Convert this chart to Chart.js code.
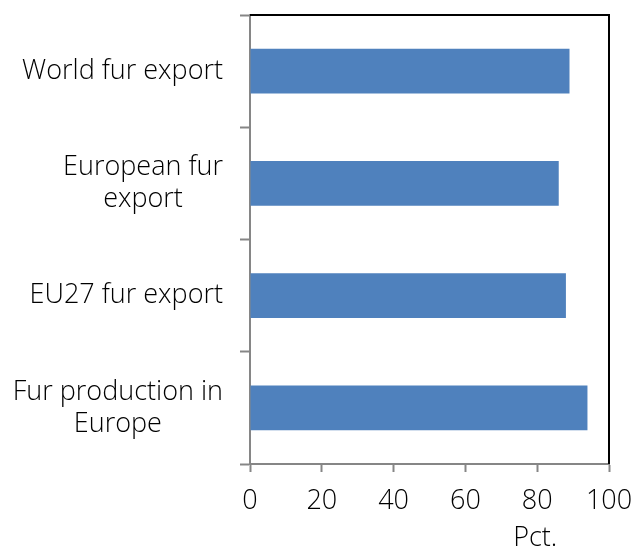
<!DOCTYPE html>
<html>
<head>
<meta charset="utf-8">
<script src="https://cdn.jsdelivr.net/npm/chart.js@4"></script>
<style>
  html, body { margin: 0; padding: 0; background: #fff; }
  #wrap { width: 636px; height: 549px; }
</style>
</head>
<body>
<div id="wrap"><canvas id="chart" width="636" height="549"></canvas></div>
<script>
// category labels, top to bottom (each an array of lines)
const categories = [
  ['World fur export'],
  ['European fur', 'export'],
  ['EU27 fur export'],
  ['Fur production in', 'Europe']
];
// percent values
const shares = [89, 86, 88, 94];
// x axis ticks
const xTicks = [0, 20, 40, 60, 80, 100];
const xTitle = 'Pct.';

const FONT = '"Open Sans", "Noto Sans", sans-serif';
const AXIS_GREY = '#868686';

// draws the frame (black top/right), the wrapped y labels and the axis title
const framePlugin = {
  id: 'frame',
  afterDraw(chart) {
    const { ctx, chartArea } = chart;
    const yScale = chart.scales.y;
    const xScale = chart.scales.x;
    ctx.save();

    // black top and right border
    ctx.strokeStyle = '#000';
    ctx.lineWidth = 2;
    ctx.beginPath();
    ctx.moveTo(chartArea.left, chartArea.top);
    ctx.lineTo(chartArea.right, chartArea.top);
    ctx.lineTo(chartArea.right, chartArea.bottom);
    ctx.stroke();

    // y labels: first line right aligned, following lines centred under it
    ctx.font = '300 27px ' + FONT;
    ctx.fillStyle = '#000';
    ctx.textBaseline = 'middle';
    const rightEdge = chartArea.left - 27;
    const lineH = 32;
    categories.forEach((lines, i) => {
      const cy = yScale.getPixelForValue(i);
      const firstW = ctx.measureText(lines[0]).width;
      const mid = rightEdge - firstW / 2;
      const y0 = cy - (lines.length - 1) * lineH / 2;
      lines.forEach((line, j) => {
        ctx.textAlign = j === 0 ? 'right' : 'center';
        ctx.fillText(line, j === 0 ? rightEdge : mid, y0 + j * lineH);
      });
    });

    // axis title sits under the 80 tick
    ctx.font = '300 27px ' + FONT;
    ctx.textAlign = 'center';
    ctx.fillText(xTitle, xScale.getPixelForValue(80) - 2, 538);
    ctx.restore();
  }
};

new Chart(document.getElementById('chart'), {
  type: 'bar',
  data: {
    labels: categories,
    datasets: [{
      data: shares,
      backgroundColor: '#4f81bd',
      borderWidth: 0,
      categoryPercentage: 1,
      barPercentage: 0.4
    }]
  },
  options: {
    indexAxis: 'y',
    responsive: false,
    animation: false,
    layout: { padding: { top: 15, right: 27, bottom: 0, left: 0 } },
    plugins: {
      legend: { display: false },
      tooltip: { enabled: false }
    },
    scales: {
      x: {
        min: 0,
        max: 100,
        afterBuildTicks: (scale) => { scale.ticks = xTicks.map(v => ({ value: v })); },
        afterFit: (scale) => {
          // let the "100" label run into the margin like the original
          scale.height = 85;
          scale.paddingLeft = 0;
          scale.paddingRight = 0;
        },
        grid: {
          drawOnChartArea: false,
          drawTicks: true,
          tickLength: 8,
          tickWidth: 2,
          tickColor: AXIS_GREY
        },
        border: { color: AXIS_GREY, width: 2 },
        ticks: {
          color: '#000',
          font: { family: FONT, size: 27, weight: 300 },
          padding: 13,
          maxRotation: 0
        }
      },
      y: {
        afterFit: (scale) => { scale.width = 250; },
        grid: {
          offset: true,
          drawOnChartArea: false,
          drawTicks: true,
          tickLength: 10,
          tickWidth: 2,
          tickColor: AXIS_GREY
        },
        border: { color: AXIS_GREY, width: 2 },
        ticks: { display: false }
      }
    }
  },
  plugins: [framePlugin]
});
</script>
</body>
</html>
